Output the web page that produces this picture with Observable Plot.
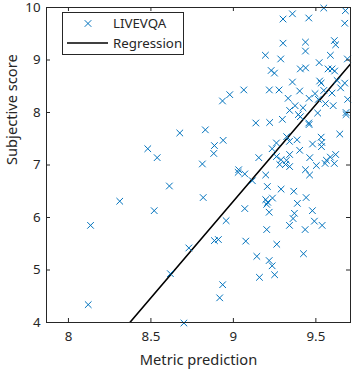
<!DOCTYPE html>
<html>
<head>
<meta charset="utf-8">
<script src="https://cdn.jsdelivr.net/npm/d3@7"></script>
<script src="https://cdn.jsdelivr.net/npm/@observablehq/plot@0.6"></script>
<style>
  html, body { margin: 0; padding: 0; background: #fff; }
  #chart { position: relative; width: 354px; height: 371px; }
</style>
</head>
<body>
<div id="chart"></div>
<script>
// Metric prediction values (x)
const metric = [
  8.12, 8.134, 8.311, 8.52, 8.612, 8.73, 8.618, 8.70, 8.481, 8.538, 8.675,
  9.548, 9.679, 9.301, 9.358, 9.457, 9.675, 9.301, 9.437, 9.437, 9.612,
  9.62, 9.194, 9.287, 9.588, 9.52, 9.691, 9.229, 9.249, 9.406, 9.438,
  9.574, 9.598, 9.614, 9.358, 9.523, 9.532, 9.675, 9.629, 9.65, 9.063,
  9.218, 9.277, 9.402, 8.978, 8.934, 9.495, 9.548, 9.598, 9.332, 9.459,
  9.515, 9.693, 9.374, 9.341, 9.422, 9.558, 9.605, 9.394, 9.406, 9.511,
  9.683, 9.683, 9.297, 9.136, 9.22, 9.457, 9.459, 8.83, 9.645, 9.323,
  9.34, 9.386, 9.261, 9.532, 9.536, 9.534, 9.48, 8.938, 8.885, 8.881,
  9.235, 9.402, 8.812, 9.154, 9.261, 9.289, 9.322, 9.341, 9.281, 9.316,
  9.341, 9.463, 9.503, 9.556, 9.564, 9.588, 9.612, 9.62, 9.032, 9.437,
  9.462, 9.029, 9.069, 9.115, 9.196, 9.206, 9.289, 9.366, 9.441, 9.388,
  8.817, 9.196, 9.208, 9.237, 9.202, 9.069, 9.217, 9.37, 9.362, 9.34,
  9.435, 9.479, 9.491, 9.538, 8.956, 9.202, 8.885, 8.909, 9.075, 9.263,
  9.142, 9.217, 9.235, 9.425, 9.158, 9.25, 8.935, 8.917
];
// Subjective scores (y)
const subjective = [
  4.34, 5.85, 6.31, 6.13, 6.60, 5.42, 4.93, 3.99, 7.31, 7.14, 7.61,
  9.99, 9.94, 9.78, 9.88, 9.80, 9.70, 9.32, 9.34, 9.17, 9.37,
  9.29, 9.09, 9.02, 9.09, 8.95, 9.02, 8.80, 8.75, 8.83, 8.85,
  8.83, 8.83, 8.79, 8.58, 8.60, 8.56, 8.56, 8.61, 8.47, 8.43,
  8.43, 8.43, 8.41, 8.34, 8.22, 8.36, 8.42, 8.37, 8.27, 8.27,
  8.25, 8.25, 8.13, 8.04, 8.09, 8.17, 8.13, 7.96, 7.92, 7.99,
  8.00, 7.96, 7.87, 7.80, 7.81, 7.80, 7.77, 7.67, 7.59, 7.54,
  7.45, 7.48, 7.42, 7.53, 7.43, 7.35, 7.40, 7.47, 7.37, 7.22,
  7.31, 7.28, 7.02, 7.14, 7.16, 7.10, 7.09, 7.20, 7.01, 7.01,
  6.97, 7.14, 6.99, 7.03, 7.09, 7.15, 7.03, 7.20, 6.91, 6.91,
  6.81, 6.86, 6.83, 6.70, 6.81, 6.59, 6.54, 6.50, 6.38, 6.27,
  6.38, 6.34, 6.29, 6.37, 6.25, 6.17, 6.10, 6.08, 5.98, 5.85,
  5.77, 6.13, 5.93, 5.85, 5.94, 5.77, 5.56, 5.58, 5.55, 5.49,
  5.26, 5.18, 5.08, 5.31, 4.86, 4.91, 4.72, 4.47
];
const xTicks = [8, 8.5, 9, 9.5];
const yTicks = [4, 5, 6, 7, 8, 9, 10];
const xDomain = [7.867, 9.71];
const yDomain = [4, 10];
// Regression line coefficients: y = intercept + slope * x
const regSlope = 3.68;
const regIntercept = -26.81;
const legendLabels = ["LIVEVQA", "Regression"];

const points = metric.map((x, i) => ({x, y: subjective[i]}));
const regLine = xDomain.map(x => ({x, y: regIntercept + regSlope * x}));

const axisColor = "#262626";
const blue = "#0072BD";
const font = "'Noto Sans', 'Open Sans', sans-serif";
const markR = 3.1;

const plot = Plot.plot({
  width: 354,
  height: 371,
  marginLeft: 46,
  marginRight: 4,
  marginTop: 7,
  marginBottom: 49,
  style: {fontFamily: font, background: "#fff", color: axisColor},
  x: {domain: xDomain},
  y: {domain: yDomain},
  marks: [
    Plot.line(regLine, {x: "x", y: "y", stroke: "#000", strokeWidth: 1.6, clip: true}),
    Plot.dot(points, {x: "x", y: "y", symbol: "times", stroke: blue, r: markR, strokeWidth: 1}),
    Plot.frame({stroke: axisColor, strokeWidth: 1}),
    Plot.tickX(xTicks, {x: d => d, stroke: axisColor, insetTop: 311}),
    Plot.tickX(xTicks, {x: d => d, stroke: axisColor, insetBottom: 311}),
    Plot.tickY(yTicks, {y: d => d, stroke: axisColor, insetRight: 300}),
    Plot.tickY(yTicks, {y: d => d, stroke: axisColor, insetLeft: 300}),
    Plot.axisX({ticks: xTicks, tickSize: 0, tickPadding: 9, fontSize: 13.3, label: null, tickFormat: d => String(d), color: axisColor}),
    Plot.axisY({ticks: yTicks, tickSize: 0, tickPadding: 6, fontSize: 13.3, label: null, tickFormat: d => String(d), color: axisColor}),
    Plot.text(["Metric prediction"], {frameAnchor: "bottom", dy: 38, fontSize: 14.67, fill: axisColor, lineAnchor: "middle"}),
    Plot.text(["Subjective score"], {frameAnchor: "left", dx: -34, rotate: -90, fontSize: 14.67, fill: axisColor, lineAnchor: "middle"})
  ]
});

document.getElementById("chart").appendChild(plot);

// Legend inside the axes (top-left)
const svg = d3.select(plot);
const lg = svg.append("g")
  .style("font-family", font).style("font-size", "13.3px").attr("text-anchor", "start");
lg.append("rect").attr("x", 62.5).attr("y", 12.5).attr("width", 121).attr("height", 42)
  .style("fill", "#ffffff").style("stroke", axisColor).style("stroke-width", "1px");
lg.append("path").attr("d", d3.symbol(d3.symbolTimes, markR * markR * Math.PI)()).attr("transform", "translate(88,23.5)")
  .style("stroke", blue).style("fill", "none").style("stroke-width", "1px");
lg.append("text").attr("x", 113).attr("y", 23.5).attr("dy", "0.35em")
  .style("text-anchor", "start").style("fill", axisColor).text(legendLabels[0]);
lg.append("line").attr("x1", 67).attr("x2", 108).attr("y1", 43).attr("y2", 43)
  .style("stroke", "#000").style("stroke-width", "1.6px");
lg.append("text").attr("x", 113).attr("y", 43).attr("dy", "0.35em")
  .style("text-anchor", "start").style("fill", axisColor).text(legendLabels[1]);
</script>
</body>
</html>
